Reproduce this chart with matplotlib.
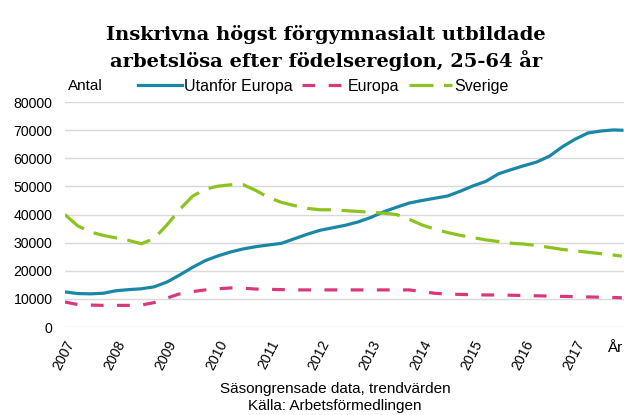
import matplotlib.pyplot as plt
import numpy as np

# Data (quarterly readings, Jan 2007 - Dec 2017)
years = [str(y) for y in range(2007, 2018)]
months = list(range(0, 132, 3)) + [131]

utanfor_europa = [
    12500, 11900, 11800, 12000, 12900, 13300, 13600, 14300,
    16000, 18500, 21200, 23600, 25300, 26700, 27800, 28600,
    29200, 29800, 31400, 33000, 34400, 35300, 36200, 37400,
    39000, 41000, 42600, 44100, 45000, 45800, 46600, 48300,
    50200, 51800, 54500, 56000, 57400, 58700, 60800, 64100,
    66800, 69000, 69700, 70100, 70000,
]
europa = [
    8900, 8000, 7800, 7700, 7700, 7700, 7800, 8700,
    10300, 11800, 12600, 13200, 13600, 13900, 13800, 13500,
    13400, 13300, 13200, 13200, 13200, 13200, 13200, 13200,
    13200, 13200, 13200, 13200, 12600, 12000, 11700, 11600,
    11500, 11400, 11400, 11300, 11200, 11100, 11000, 10900,
    10800, 10700, 10600, 10500, 10400,
]
sverige = [
    40000, 36000, 33800, 32600, 31700, 30800, 29600, 31500,
    36300, 41800, 46500, 49000, 50100, 50600, 50600, 48500,
    46000, 44300, 43200, 42200, 41700, 41700, 41400, 41100,
    40800, 40500, 40000, 38300, 36300, 34800, 33600, 32600,
    31800, 31000, 30400, 29800, 29500, 29000, 28300, 27600,
    27100, 26600, 26100, 25600, 25200,
]

BLUE = "#1b87a7"
PINK = "#d9387c"
GREEN = "#8cc31f"

plt.rcParams["font.family"] = ["Liberation Sans", "DejaVu Sans"]

fig = plt.figure(figsize=(6.24, 4.15), dpi=100)
ax = fig.add_axes([0.104, 0.212, 0.896, 0.542])

ax.plot(months, utanfor_europa, color=BLUE, lw=2.3, label="Utanför Europa")
ax.plot(months, europa, color=PINK, lw=2.3, dashes=(4, 4.2), label="Europa")
ax.plot(months, sverige, color=GREEN, lw=2.3, dashes=(7.5, 3.3), label="Sverige")

ax.set_xlim(0, 131.5)
ax.set_ylim(0, 80000)
ax.set_yticks(range(0, 80001, 10000))
ax.set_xticks(range(0, 132, 12))
ax.set_xticklabels(years, rotation=63, ha="right", rotation_mode="anchor")
ax.tick_params(axis="both", length=0, labelsize=10.2, colors="black")
ax.tick_params(axis="x", pad=8)
ax.tick_params(axis="y", pad=9)
ax.grid(axis="y", color="#d9d9d9", lw=1)
ax.set_axisbelow(True)
for s in ax.spines.values():
    s.set_visible(False)

fig.text(0.998, 0.161, "År", ha="right", va="center", fontsize=11)
fig.text(0.109, 0.793, "Antal", ha="left", va="center", fontsize=11)

ax.legend(loc="center left", bbox_to_anchor=(0.12, 1.07), ncol=3, frameon=False,
          fontsize=11.5, handlelength=2.7, handletextpad=0.15, columnspacing=0.6,
          borderaxespad=0)

fig.text(0.522, 0.884, "Inskrivna högst förgymnasialt utbildade\narbetslösa efter födelseregion, 25-64 år",
         ha="center", va="center", fontsize=14, fontweight="bold",
         family=["DejaVu Serif"], linespacing=1.35)

fig.text(0.537, 0.043, "Säsongrensade data, trendvärden\nKälla: Arbetsförmedlingen",
         ha="center", va="center", fontsize=11, linespacing=1.3)

fig.savefig("out.png", dpi=100)
